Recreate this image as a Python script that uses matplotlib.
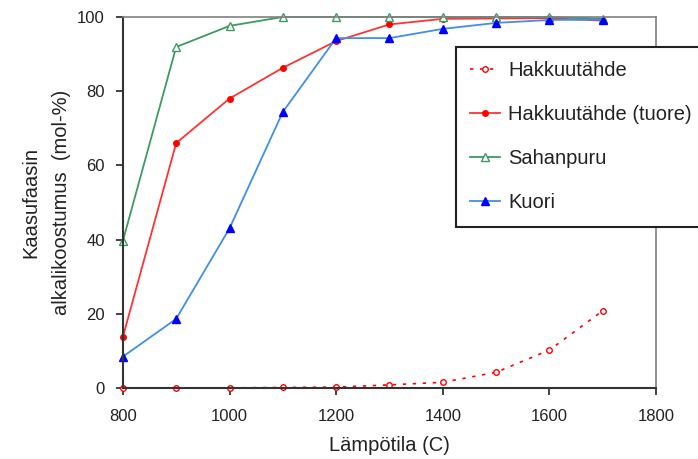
import matplotlib
matplotlib.use("Agg")
import matplotlib.pyplot as plt

plt.rcParams['font.family'] = ['Liberation Sans', 'DejaVu Sans']

temps = [800, 900, 1000, 1100, 1200, 1300, 1400, 1500, 1600, 1700]
hakkuutahde = [0, 0, 0, 0.1, 0.2, 0.8, 1.5, 4.2, 10.2, 20.8]
hakkuutahde_tuore = [13.7, 66, 78, 86.3, 93.5, 98, 99.5, 99.6, 99.7, 99]
sahanpuru = [39.6, 91.9, 97.6, 100, 100, 100, 100, 100, 100, 99.5]
kuori = [8.4, 18.6, 43, 74.4, 94.3, 94.3, 96.8, 98.4, 99.2, 99.3]

fig = plt.figure(figsize=(6.98, 4.59), dpi=100)
ax = fig.add_axes([0.176, 0.155, 0.764, 0.808])

ax.plot(temps, hakkuutahde, color='red', linestyle=(0, (2, 4)), linewidth=1.2,
        marker='o', markersize=4, markerfacecolor='white', markeredgecolor='red',
        label='Hakkuutähde', clip_on=False)
ax.plot(temps, hakkuutahde_tuore, color='#ff3333', linewidth=1.3,
        marker='o', markersize=4, markerfacecolor='red', markeredgecolor='red',
        label='Hakkuutähde (tuore)', clip_on=False)
ax.plot(temps, sahanpuru, color='#3c9a62', linewidth=1.3,
        marker='^', markersize=6, markerfacecolor='white', markeredgecolor='#3c9a62',
        label='Sahanpuru', clip_on=False)
ax.plot(temps, kuori, color='#3f8fea', linewidth=1.3,
        marker='^', markersize=6, markerfacecolor='#0000ff', markeredgecolor='#0000ff',
        label='Kuori', clip_on=False)

ax.set_xlim(800, 1800)
ax.set_ylim(0, 100)
ax.set_xticks(range(800, 1801, 200))
ax.set_yticks(range(0, 101, 20))
ax.tick_params(direction='out', length=5, width=1.2, labelsize=12, colors='#222222')
ax.tick_params(axis='y', pad=8)
ax.tick_params(axis='x', pad=10)
for s in ['left', 'bottom']:
    ax.spines[s].set_color('#333333')
    ax.spines[s].set_linewidth(1.5)
for s in ['top', 'right']:
    ax.spines[s].set_color('#808080')
    ax.spines[s].set_linewidth(1.2)

ax.set_xlabel('Lämpötila (C)', fontsize=14.5, labelpad=9, color='#222222')
ax.set_ylabel('Kaasufaasin\nalkalikoostumus  (mol-%)', fontsize=14.5, labelpad=4,
              ha='center', multialignment='center', linespacing=1.8, color='#222222')

leg = fig.legend(loc='upper left', bbox_to_anchor=(0.653, 0.898), fontsize=14.5,
                 frameon=True, fancybox=False, edgecolor='#222222',
                 labelspacing=1.25, handlelength=1.5, borderpad=0.7,
                 handletextpad=0.4, borderaxespad=0, labelcolor='#222222')
leg.get_frame().set_linewidth(1.5)
leg.get_frame().set_alpha(1)

fig.savefig('out.png', dpi=100)
